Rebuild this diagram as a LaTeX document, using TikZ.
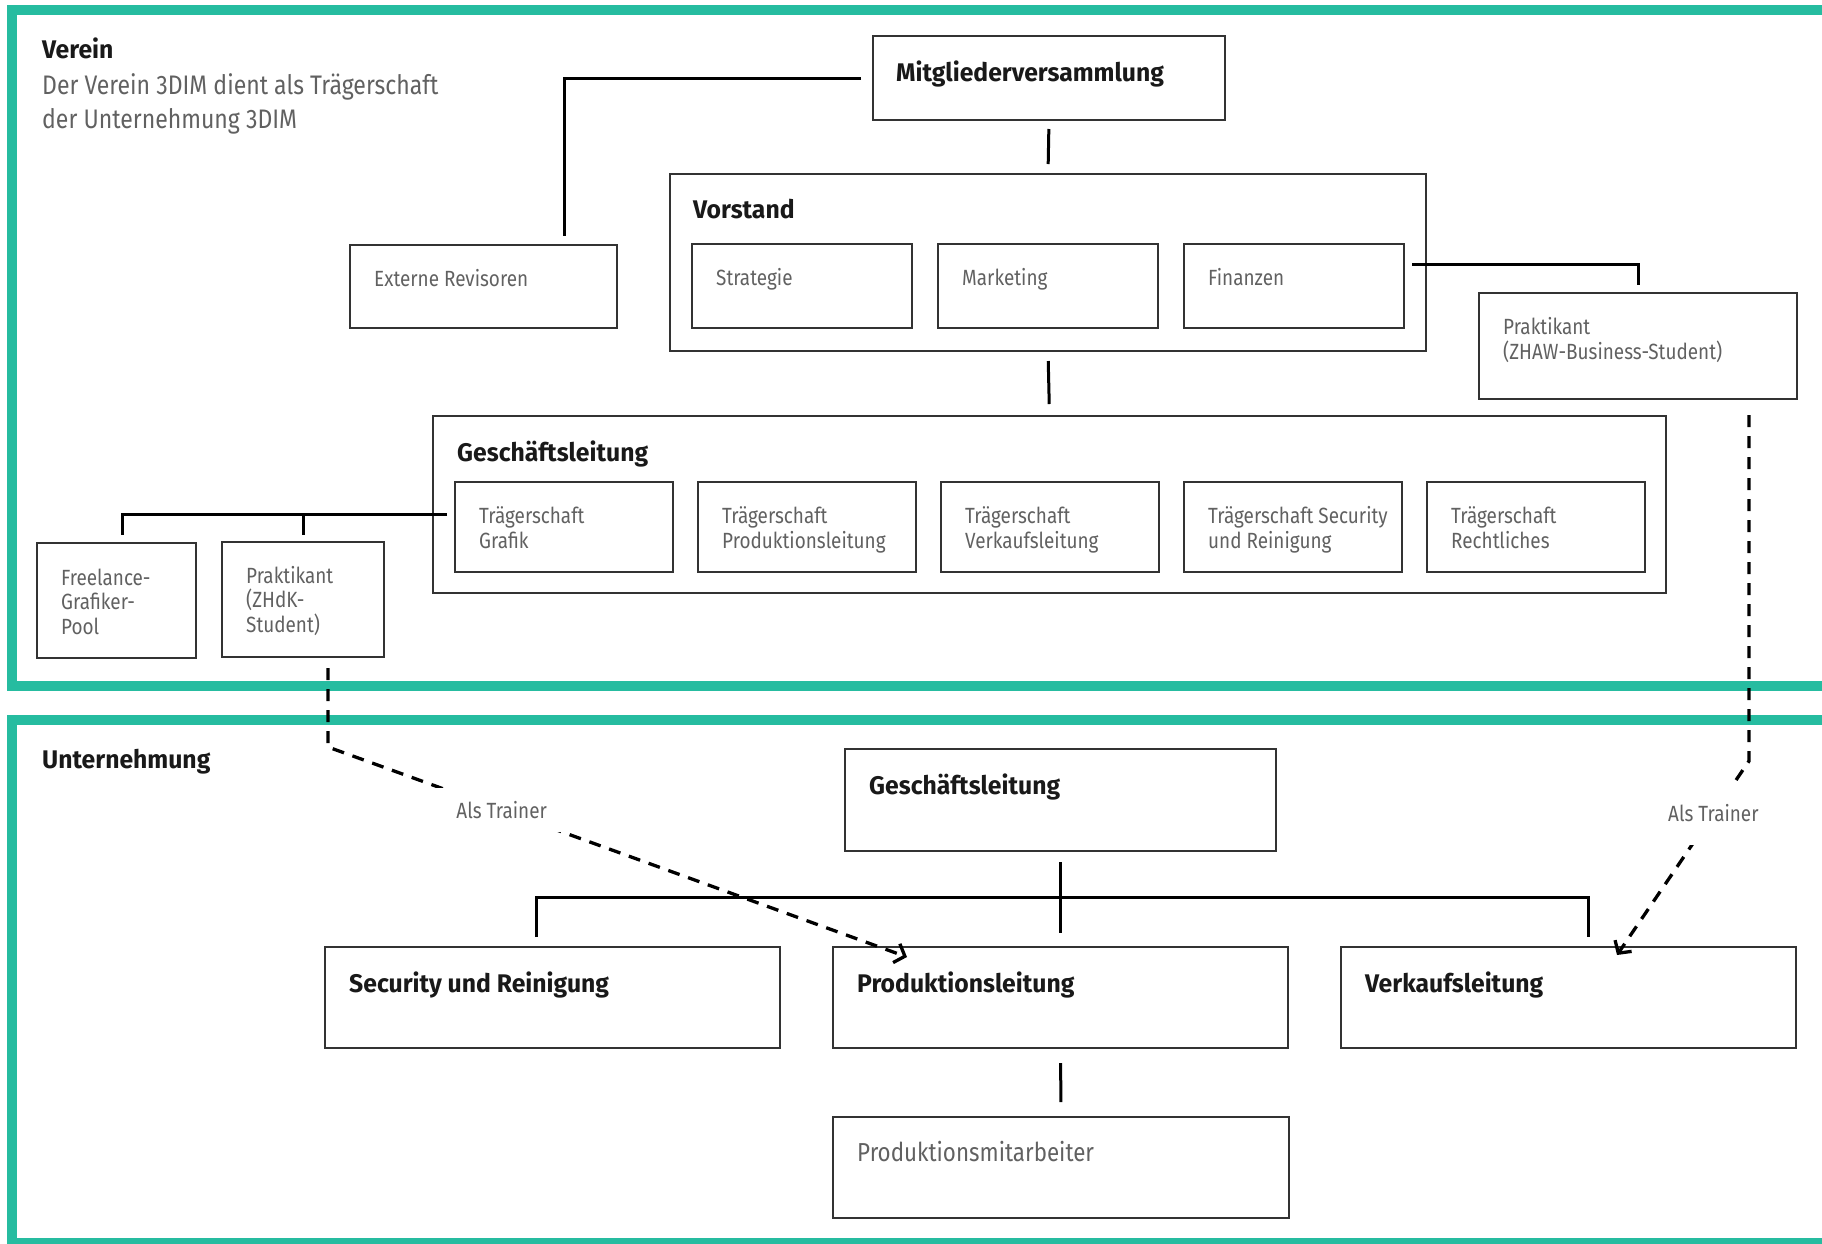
\documentclass[tikz,border=0pt]{standalone}
\usepackage{fontspec}
\setmainfont{Fira Sans}[FakeStretch=0.86]
\newfontfamily\headfont{Fira Sans}[FakeStretch=0.97]
\usepackage{tikz}
\usetikzlibrary{arrows.meta,positioning,calc}
\definecolor{vereingreen}{RGB}{38,188,160}

\begin{document}
\begin{tikzpicture}[x=1pt, y=-1pt,
    box/.style={draw=black!80, line width=1.6pt, anchor=north west, inner sep=0pt, outer sep=0pt},
    lbl/.style={anchor=base west, inner sep=0pt, align=left, text=black!62, font=\fontsize{22}{24.5}\selectfont},
    ttl/.style={anchor=base west, inner sep=0pt, text=black!90, font=\headfont\bfseries\fontsize{25.5}{30}\selectfont},
    link/.style={line width=3pt},
    trainer/.style={line width=3.3pt, dash pattern=on 12pt off 9pt, -{Straight Barb[length=9pt,width=20pt]}},
    frame/.style={draw=vereingreen, line width=10pt}]
    \useasboundingbox (0,0) rectangle (1822,1243);

    \draw[frame] (1840,10) -| (12,686) -- (1840,686);
    \draw[frame] (1840,720) -| (12,1243) -- (1840,1243);

    \node[ttl] (verein) at (42,58) {Verein};
    \node[lbl, font=\fontsize{26.8}{34}\selectfont] (vereintext) at (42,128) {Der Verein 3DIM dient als Trägerschaft\\der Unternehmung 3DIM};
    \node[ttl] (unternehmung) at (42,768) {Unternehmung};

    \node[box, minimum width=352pt, minimum height=84pt] (mv) at (873,36) {};
    \node[box, minimum width=756pt, minimum height=177pt] (vor) at (670,174) {};
    \node[box, minimum width=220pt, minimum height=84pt] (strat) at (692,244) {};
    \node[box, minimum width=220pt, minimum height=84pt, right=26pt of strat] (mark) {};
    \node[box, minimum width=220pt, minimum height=84pt, right=26pt of mark] (fin) {};
    \node[box, minimum width=267pt, minimum height=83pt] (ext) at (350,245) {};
    \node[box, minimum width=318pt, minimum height=106pt] (zhaw) at (1479,293) {};
    \node[box, minimum width=1233pt, minimum height=177pt] (gl) at (433,416) {};
    \node[box, minimum width=218pt, minimum height=90pt] (tg1) at (455,482) {};
    \node[box, minimum width=218pt, minimum height=90pt, right=25pt of tg1] (tg2) {};
    \node[box, minimum width=218pt, minimum height=90pt, right=25pt of tg2] (tg3) {};
    \node[box, minimum width=218pt, minimum height=90pt, right=25pt of tg3] (tg4) {};
    \node[box, minimum width=218pt, minimum height=90pt, right=25pt of tg4] (tg5) {};
    \node[box, minimum width=159pt, minimum height=115pt] (free) at (37,543) {};
    \node[box, minimum width=162pt, minimum height=115pt] (prakz) at (222,542) {};

    \node[box, minimum width=431pt, minimum height=102pt] (ugl) at (845,749) {};
    \node[box, minimum width=455pt, minimum height=101pt] (sec) at (325,947) {};
    \node[box, minimum width=455pt, minimum height=101pt, right=53pt of sec] (prod) {};
    \node[box, minimum width=455pt, minimum height=101pt, right=53pt of prod] (verk) {};
    \node[box, minimum width=456pt, minimum height=101pt] (pma) at (833,1117) {};

    \node[ttl] (mv-t) at ($(mv.north west)+(23,45)$) {Mitgliederversammlung};
    \node[ttl] (vor-t) at ($(vor.north west)+(23,44)$) {Vorstand};
    \node[ttl] (gl-t) at ($(gl.north west)+(24,45)$) {Geschäftsleitung};
    \node[ttl] (ugl-t) at ($(ugl.north west)+(24,45)$) {Geschäftsleitung};
    \node[ttl] (sec-t) at ($(sec.north west)+(24,45)$) {Security und Reinigung};
    \node[ttl] (prod-t) at ($(prod.north west)+(24,45)$) {Produktionsleitung};
    \node[ttl] (verk-t) at ($(verk.north west)+(24,45)$) {Verkaufsleitung};

    \node[lbl] (strat-t) at ($(strat.north west)+(24,41)$) {Strategie};
    \node[lbl] (mark-t) at ($(mark.north west)+(24,41)$) {Marketing};
    \node[lbl] (fin-t) at ($(fin.north west)+(24,41)$) {Finanzen};
    \node[lbl] (ext-t) at ($(ext.north west)+(24,41)$) {Externe Revisoren};
    \node[lbl] (zhaw-t) at ($(zhaw.north west)+(24,66)$) {Praktikant\\(ZHAW-Business-Student)};
    \node[lbl] (tg1-t) at ($(tg1.north west)+(24,66)$) {Trägerschaft\\Grafik};
    \node[lbl] (tg2-t) at ($(tg2.north west)+(24,66)$) {Trägerschaft\\Produktionsleitung};
    \node[lbl] (tg3-t) at ($(tg3.north west)+(24,66)$) {Trägerschaft\\Verkaufsleitung};
    \node[lbl] (tg4-t) at ($(tg4.north west)+(24,66)$) {Trägerschaft Security\\und Reinigung};
    \node[lbl] (tg5-t) at ($(tg5.north west)+(24,66)$) {Trägerschaft\\Rechtliches};
    \node[lbl] (free-t) at ($(free.north west)+(24,91)$) {Freelance-\\Grafiker-\\Pool};
    \node[lbl] (prakz-t) at ($(prakz.north west)+(24,90)$) {Praktikant\\(ZHdK-\\Student)};
    \node[lbl, font=\fontsize{26}{30}\selectfont] (pma-t) at ($(pma.north west)+(24,44)$) {Produktionsmitarbeiter};

    \draw[link, shorten <=9pt, shorten >=10pt] (mv.south) -- (vor.north);
    \draw[link, shorten <=10pt, shorten >=12pt] (vor.south) -- (gl.north);
    \draw[link] ($(mv.west)+(-12,0)$) -| ($(ext.north east)+(-53,-9)$);
    \draw[link] ($(fin.north east)+(8,20)$) -| ($(zhaw.north)+(0,-8)$);
    \coordinate (gjoin) at ($(tg1.west)+(-8,-13)$);
    \draw[link] (gjoin) -| ($(free.north)+(6,-8)$);
    \draw[link] (gjoin -| prakz.north) -- ($(prakz.north)+(0,-7)$);

    \draw[link, shorten <=11pt, shorten >=14pt] (ugl.south) -- (prod.north);
    \coordinate (ubar) at ($(ugl.south)+(0,46)$);
    \draw[link] ($(sec.north)+(-16,-10)$) |- (ubar) -| ($(verk.north)+(20,-10)$);
    \draw[link, shorten <=15pt, shorten >=15pt] (prod.south) -- (pma.north);

    \coordinate (zhdkbend) at (328,747);
    \coordinate (zhawbend) at (1749,761);
    \draw[trainer] ($(prakz.south)+(25,11)$) -- (zhdkbend)
        -- node[lbl, anchor=center, pos=0.3, fill=white, inner xsep=20pt, inner ysep=13pt] (train1) {Als Trainer} ($(prod.north west)+(74,10)$);
    \draw[trainer] ($(zhaw.south)+(111,16)$) -- (zhawbend)
        -- node[lbl, anchor=center, pos=0.27, fill=white, inner xsep=6pt, inner ysep=23pt] (train2) {Als Trainer} ($(verk.north west)+(276,8)$);
\end{tikzpicture}
\end{document}
